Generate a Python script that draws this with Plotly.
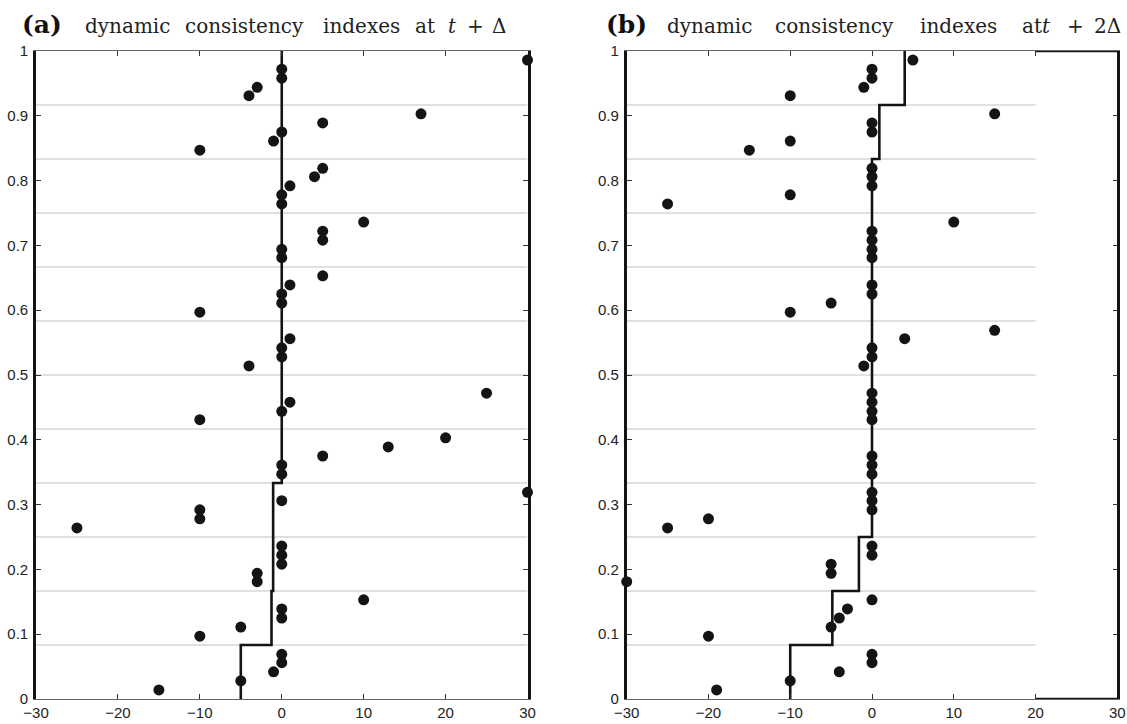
import plotly.graph_objects as go

W, H = 1127, 724

# ---------------- data ----------------
# panel (a): dynamic consistency indexes at t + Delta
a_x = [-15, -5, -1, 0, 0, -10, -5, 0, 0, 10, -3, -3, 0, 0, 0, -25, -10, -10, 0, 30,
       0, 0, 5, 13, 20, -10, 0, 1, 25, -4, 0, 0, 1, -10, 0, 0, 1, 5, 0, 0, 5, 5, 10,
       0, 0, 1, 4, 5, -10, -1, 0, 5, 17, -4, -3, 0, 0, 30]
a_y = [0.014, 0.028, 0.042, 0.056, 0.069, 0.097, 0.111, 0.125, 0.139, 0.153, 0.181,
       0.194, 0.208, 0.222, 0.236, 0.264, 0.278, 0.292, 0.306, 0.319, 0.347, 0.361,
       0.375, 0.389, 0.403, 0.431, 0.444, 0.458, 0.472, 0.514, 0.528, 0.542, 0.556,
       0.597, 0.611, 0.625, 0.639, 0.653, 0.681, 0.694, 0.708, 0.722, 0.736, 0.764,
       0.778, 0.792, 0.806, 0.819, 0.847, 0.861, 0.875, 0.889, 0.903, 0.931, 0.944,
       0.958, 0.972, 0.986]

# panel (b): dynamic consistency indexes at t + 2 Delta
b_x = [-19, -10, -4, 0, 0, -20, -5, -4, -3, 0, -30, -5, -5, 0, 0, -25, -20, 0, 0, 0,
       0, 0, 0, 0, 0, 0, 0, -1, 0, 0, 4, 15, -10, -5, 0, 0, 0, 0, 0, 0, 10, -25, -10,
       0, 0, 0, -15, -10, 0, 0, 15, -10, -1, 0, 0, 5]
b_y = [0.014, 0.028, 0.042, 0.056, 0.069, 0.097, 0.111, 0.125, 0.139, 0.153, 0.181,
       0.194, 0.208, 0.222, 0.236, 0.264, 0.278, 0.292, 0.306, 0.319, 0.347, 0.361,
       0.375, 0.431, 0.444, 0.458, 0.472, 0.514, 0.528, 0.542, 0.556, 0.569, 0.597,
       0.611, 0.625, 0.639, 0.681, 0.694, 0.708, 0.722, 0.736, 0.764, 0.778, 0.792,
       0.806, 0.819, 0.847, 0.861, 0.875, 0.889, 0.903, 0.931, 0.944, 0.958, 0.972,
       0.986]

# step curves: level value for each twelfth of the vertical range
step_edges = [0, 0.0833, 0.1667, 0.25, 0.3333, 0.4167, 0.5, 0.5833, 0.6667, 0.75,
              0.8333, 0.9167, 1.0]
a_step = [-5, -1.25, -1.05, -1.05, 0, 0, 0, 0, 0, 0, 0, 0]
b_step = [-10, -4.85, -1.6, 0, 0, 0, 0, 0, 0, 0, 0.9, 4]

grid_levels = step_edges[1:-1]

x_ticks = [-30, -20, -10, 0, 10, 20, 30]
y_ticks = [0, 0.1, 0.2, 0.3, 0.4, 0.5, 0.6, 0.7, 0.8, 0.9, 1]

# title words and their centre positions (pixels)
title_a_words = ["dynamic", "consistency", "indexes", "at", "<i>t</i>", "+", "Δ"]
title_a_centre = [127, 244, 361, 425, 452, 475, 499]
title_b_words = ["dynamic", "consistency", "indexes", "at<i>t</i>", "+", "2Δ"]
title_b_centre = [709, 834, 958, 1036, 1075, 1107]


def stairs(edges, vals):
    xs, ys = [], []
    for i, v in enumerate(vals):
        xs += [v, v]
        ys += [edges[i], edges[i + 1]]
    return xs, ys


# ---------------- figure ----------------
fig = go.Figure()

dom_a = [36 / W, 527.5 / W]
dom_b = [626.7 / W, 1117.3 / W]
dom_y = [1 - 699 / H, 1 - 51 / H]

GRID = "#d6d6d6"
INK = "#141414"

for g in grid_levels:
    fig.add_trace(go.Scatter(x=[-30, 30], y=[g, g], mode="lines", xaxis="x", yaxis="y",
                             line=dict(color=GRID, width=1.6), hoverinfo="skip", showlegend=False))
    fig.add_trace(go.Scatter(x=[-30, 20], y=[g, g], mode="lines", xaxis="x2", yaxis="y2",
                             line=dict(color=GRID, width=1.6), hoverinfo="skip", showlegend=False))

sx, sy = stairs(step_edges, a_step)
fig.add_trace(go.Scatter(x=sx, y=sy, mode="lines", xaxis="x", yaxis="y",
                         line=dict(color=INK, width=2.6), showlegend=False, cliponaxis=False))
sx, sy = stairs(step_edges, b_step)
fig.add_trace(go.Scatter(x=sx, y=sy, mode="lines", xaxis="x2", yaxis="y2",
                         line=dict(color=INK, width=2.6), showlegend=False, cliponaxis=False))

fig.add_trace(go.Scatter(x=a_x, y=a_y, mode="markers", xaxis="x", yaxis="y",
                         marker=dict(color=INK, size=11, line=dict(width=0)),
                         showlegend=False, cliponaxis=False))
fig.add_trace(go.Scatter(x=b_x, y=b_y, mode="markers", xaxis="x2", yaxis="y2",
                         marker=dict(color=INK, size=11, line=dict(width=0)),
                         showlegend=False, cliponaxis=False))

TICKFONT = dict(family="Liberation Sans", size=15, color="#222")
axis_common = dict(
    range=[-30, 30], tickvals=x_ticks, ticks="inside", ticklen=5, tickwidth=1,
    tickcolor="#333", showline=True, linecolor="#666", linewidth=1, mirror="ticks",
    showgrid=False, zeroline=False, tickfont=TICKFONT, automargin=False,
    ticklabelstandoff=0,
)
yaxis_common = dict(
    range=[0, 1], tickvals=y_ticks, ticks="inside", ticklen=5, tickwidth=1,
    tickcolor="#333", showline=True, linecolor=INK, linewidth=2.6, mirror="ticks",
    showgrid=False, zeroline=False, tickfont=TICKFONT, automargin=False,
    domain=dom_y, ticklabelstandoff=2,
)

fig.update_layout(
    width=W, height=H, margin=dict(l=0, r=0, t=0, b=0),
    paper_bgcolor="white", plot_bgcolor="white",
    xaxis=dict(domain=dom_a, anchor="y", **axis_common),
    yaxis=dict(anchor="x", **yaxis_common),
    xaxis2=dict(domain=dom_b, anchor="y2", **axis_common),
    yaxis2=dict(anchor="x2", **yaxis_common),
)

thick = dict(color=INK, width=2.6)
fig.update_layout(shapes=[
    dict(type="line", xref="x2", yref="y2", x0=20, x1=30, y0=1, y1=1, line=thick),
    dict(type="line", xref="x2", yref="y2", x0=20, x1=30, y0=0, y1=0, line=thick),
])


def px(xp):
    return xp / W


def py(yp):
    return 1 - yp / H


TITLE_FONT = "DejaVu Serif"
ann = [
    dict(text="<b>(a)</b>", x=px(20), y=py(24), xanchor="left", yanchor="middle",
         font=dict(family=TITLE_FONT, size=25, color="#111")),
    dict(text="<b>(b)</b>", x=px(604), y=py(24), xanchor="left", yanchor="middle",
         font=dict(family=TITLE_FONT, size=25, color="#111")),
]
for w, c in zip(title_a_words, title_a_centre):
    ann.append(dict(text=w, x=px(c), y=py(26), xanchor="center", yanchor="middle",
                    font=dict(family=TITLE_FONT, size=20, color="#222")))
for w, c in zip(title_b_words, title_b_centre):
    ann.append(dict(text=w, x=px(c), y=py(26), xanchor="center", yanchor="middle",
                    font=dict(family=TITLE_FONT, size=20, color="#222")))
for a in ann:
    a.update(xref="paper", yref="paper", showarrow=False)
fig.update_layout(annotations=ann)

fig.write_html(
    "out.html",
    config={"displayModeBar": False},
    post_script="document.body.style.margin='0';document.body.style.overflow='hidden';",
)
